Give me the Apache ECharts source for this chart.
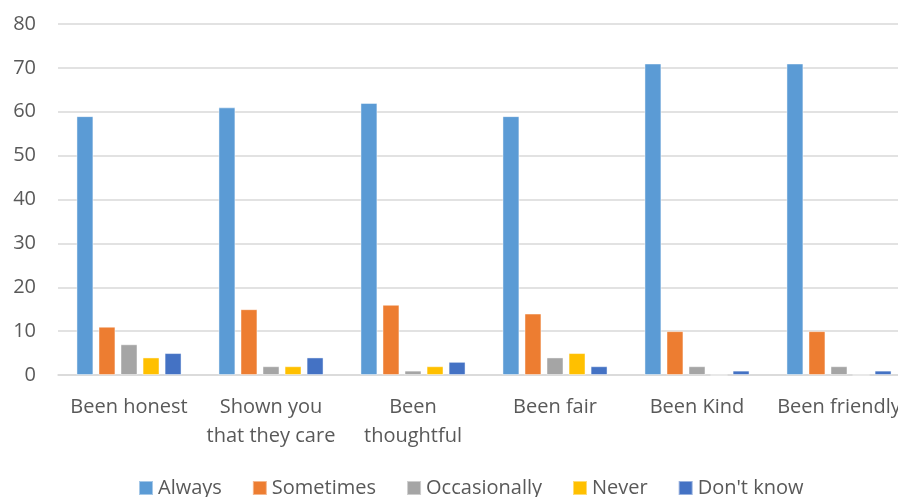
<!DOCTYPE html>
<html>
<head>
<meta charset="utf-8">
<script src="https://cdn.jsdelivr.net/npm/echarts@6/dist/echarts.min.js"></script>
<style>
  html, body { margin: 0; padding: 0; background: #fff; overflow: hidden; }
  #chart { width: 898px; height: 497px; }
</style>
</head>
<body>
<div id="chart"></div>
<script>
// Survey responses per behaviour
const categories = ['Been honest', 'Shown you\nthat they care', 'Been\nthoughtful', 'Been fair', 'Been Kind', 'Been friendly'];
const seriesNames = ['Always', 'Sometimes', 'Occasionally', 'Never', "Don't know"];
const always       = [59, 61, 62, 59, 71, 71];
const sometimes    = [11, 15, 16, 14, 10, 10];
const occasionally = [7, 2, 1, 4, 2, 2];
const never        = [4, 2, 2, 5, 0, 0];
const dontKnow     = [5, 4, 3, 2, 1, 1];
const yTicks = { min: 0, max: 80, interval: 10 };

const colors = ['#5B9BD5', '#ED7D31', '#A5A5A5', '#FFC000', '#4472C4'];
const values = [always, sometimes, occasionally, never, dontKnow];
const font = '"Open Sans", sans-serif';

const chart = echarts.init(document.getElementById('chart'));
chart.setOption({
  animation: false,
  color: colors,
  textStyle: { fontFamily: font },
  // plot area runs past the right edge, so the last label is clipped
  grid: { left: 58, top: 24, width: 852, height: 351, containLabel: false, outerBoundsMode: 'none' },
  legend: {
    bottom: -6,
    left: 133,
    icon: 'rect',
    itemWidth: 14,
    itemHeight: 14,
    itemGap: 30,
    textStyle: { fontSize: 20, color: '#595959', fontFamily: font },
    data: seriesNames
  },
  xAxis: {
    type: 'category',
    data: categories,
    axisLine: { lineStyle: { color: '#d9d9d9', width: 1.5 } },
    axisTick: { show: false },
    axisLabel: { interval: 0, fontSize: 20, color: '#595959', lineHeight: 29, margin: 18, fontFamily: font }
  },
  yAxis: {
    type: 'value',
    min: yTicks.min,
    max: yTicks.max,
    interval: yTicks.interval,
    axisLine: { show: false },
    axisTick: { show: false },
    splitLine: { lineStyle: { color: '#d9d9d9', width: 1.5 } },
    axisLabel: { fontSize: 20, color: '#595959', margin: 22, fontFamily: font }
  },
  series: seriesNames.map((name, i) => ({
    name,
    type: 'bar',
    data: values[i],
    barGap: '30%',
    barCategoryGap: '26%',
    itemStyle: { color: colors[i], borderColor: 'rgba(255,255,255,0.45)', borderWidth: 1 }
  }))
});
</script>
</body>
</html>
